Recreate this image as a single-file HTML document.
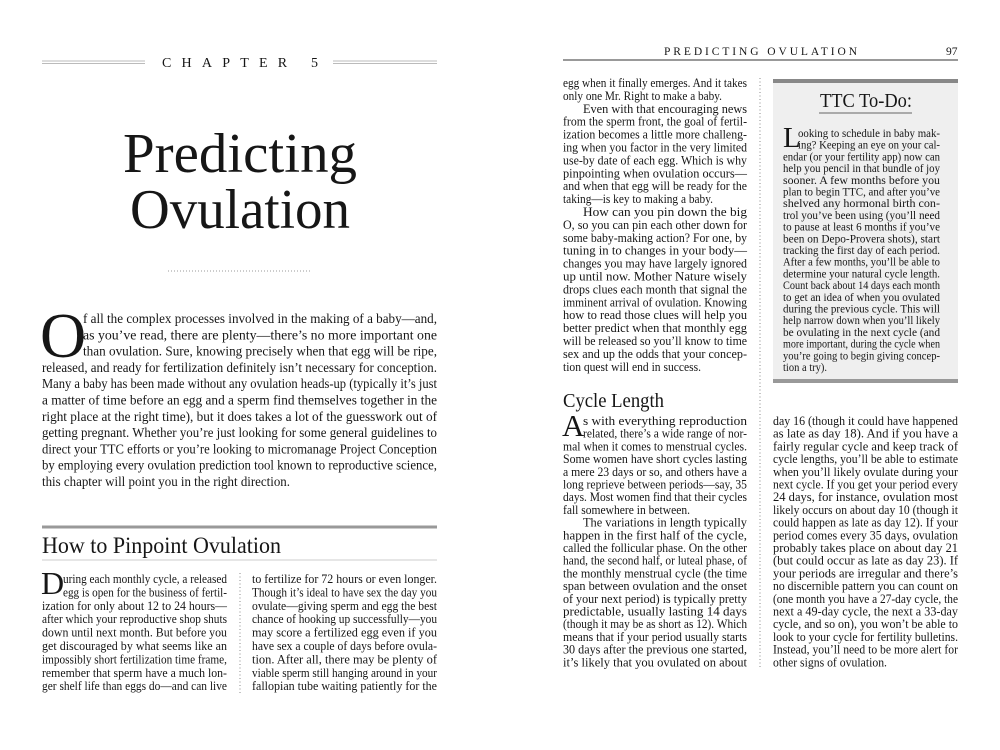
<!DOCTYPE html>
<html><head><meta charset="utf-8"><style>
body{margin:0;width:1000px;height:750px;background:#fff;overflow:hidden}
svg{display:block}
text{font-family:"Liberation Serif",serif;fill:#161616}
.a{font-size:14px}
.c{font-size:12.6px}
.x{font-size:11.8px}
</style></head><body>
<svg width="1000" height="750" viewBox="0 0 1000 750" xmlns="http://www.w3.org/2000/svg">
<!-- LEFT PAGE -->
<g stroke="#bbb" stroke-width="1">
<line x1="42" y1="61" x2="145" y2="61"/><line x1="42" y1="63.5" x2="145" y2="63.5"/>
<line x1="333" y1="61" x2="437" y2="61"/><line x1="333" y1="63.5" x2="437" y2="63.5"/>
</g>
<text x="162" y="67" font-size="14" textLength="156" lengthAdjust="spacing">CHAPTER 5</text>
<text x="123" y="172" font-size="56" textLength="234" lengthAdjust="spacingAndGlyphs">Predicting</text>
<text x="130" y="228" font-size="56" textLength="220" lengthAdjust="spacingAndGlyphs">Ovulation</text>
<line x1="168" y1="271" x2="312" y2="271" stroke="#999" stroke-dasharray="1,2"/>

<text x="40" y="357" font-size="64">O</text>
<g class="a">
<text x="83" y="323" textLength="354" lengthAdjust="spacingAndGlyphs">f all the complex processes involved in the making of a baby—and,</text>
<text x="83" y="339.3" textLength="354" lengthAdjust="spacingAndGlyphs">as you’ve read, there are plenty—there’s no more important one</text>
<text x="83" y="355.6" textLength="354" lengthAdjust="spacingAndGlyphs">than ovulation. Sure, knowing precisely when that egg will be ripe,</text>
<text x="42" y="371.9" textLength="395" lengthAdjust="spacingAndGlyphs">released, and ready for fertilization definitely isn’t necessary for conception.</text>
<text x="42" y="388.2" textLength="395" lengthAdjust="spacingAndGlyphs">Many a baby has been made without any ovulation heads-up (typically it’s just</text>
<text x="42" y="404.5" textLength="395" lengthAdjust="spacingAndGlyphs">a matter of time before an egg and a sperm find themselves together in the</text>
<text x="42" y="420.8" textLength="395" lengthAdjust="spacingAndGlyphs">right place at the right time), but it does takes a lot of the guesswork out of</text>
<text x="42" y="437.1" textLength="395" lengthAdjust="spacingAndGlyphs">getting pregnant. Whether you’re just looking for some general guidelines to</text>
<text x="42" y="453.4" textLength="395" lengthAdjust="spacingAndGlyphs">direct your TTC efforts or you’re looking to micromanage Project Conception</text>
<text x="42" y="469.7" textLength="395" lengthAdjust="spacingAndGlyphs">by employing every ovulation prediction tool known to reproductive science,</text>
<text x="42" y="486" textLength="248" lengthAdjust="spacingAndGlyphs">this chapter will point you in the right direction.</text>
</g>

<rect x="42" y="525.5" width="395" height="3" fill="#999"/>
<text x="42" y="553" font-size="23" textLength="239" lengthAdjust="spacingAndGlyphs">How to Pinpoint Ovulation</text>
<line x1="42" y1="560" x2="437" y2="560" stroke="#ccc"/>

<text x="41" y="594" font-size="32">D</text>
<g class="c">
<text x="63" y="583" textLength="164" lengthAdjust="spacingAndGlyphs">uring each monthly cycle, a released</text>
<text x="63" y="596.4" textLength="164" lengthAdjust="spacingAndGlyphs">egg is open for the business of fertil-</text>
<text x="42" y="609.8" textLength="185" lengthAdjust="spacingAndGlyphs">ization for only about 12 to 24 hours—</text>
<text x="42" y="623.2" textLength="185" lengthAdjust="spacingAndGlyphs">after which your reproductive shop shuts</text>
<text x="42" y="636.6" textLength="185" lengthAdjust="spacingAndGlyphs">down until next month. But before you</text>
<text x="42" y="650" textLength="185" lengthAdjust="spacingAndGlyphs">get discouraged by what seems like an</text>
<text x="42" y="663.4" textLength="185" lengthAdjust="spacingAndGlyphs">impossibly short fertilization time frame,</text>
<text x="42" y="676.8" textLength="185" lengthAdjust="spacingAndGlyphs">remember that sperm have a much lon-</text>
<text x="42" y="690.2" textLength="185" lengthAdjust="spacingAndGlyphs">ger shelf life than eggs do—and can live</text>
<text x="252" y="583" textLength="185" lengthAdjust="spacingAndGlyphs">to fertilize for 72 hours or even longer.</text>
<text x="252" y="596.4" textLength="185" lengthAdjust="spacingAndGlyphs">Though it’s ideal to have sex the day you</text>
<text x="252" y="609.8" textLength="185" lengthAdjust="spacingAndGlyphs">ovulate—giving sperm and egg the best</text>
<text x="252" y="623.2" textLength="185" lengthAdjust="spacingAndGlyphs">chance of hooking up successfully—you</text>
<text x="252" y="636.6" textLength="185" lengthAdjust="spacingAndGlyphs">may score a fertilized egg even if you</text>
<text x="252" y="650" textLength="185" lengthAdjust="spacingAndGlyphs">have sex a couple of days before ovula-</text>
<text x="252" y="663.4" textLength="185" lengthAdjust="spacingAndGlyphs">tion. After all, there may be plenty of</text>
<text x="252" y="676.8" textLength="185" lengthAdjust="spacingAndGlyphs">viable sperm still hanging around in your</text>
<text x="252" y="690.2" textLength="185" lengthAdjust="spacingAndGlyphs">fallopian tube waiting patiently for the</text>
</g>
<line x1="240" y1="573" x2="240" y2="694" stroke="#888" stroke-dasharray="1,2.5"/>

<!-- RIGHT PAGE -->
<text x="664" y="55" font-size="11.5" textLength="193" lengthAdjust="spacing">PREDICTING OVULATION</text>
<text x="946" y="55" font-size="11.5">97</text>
<rect x="563" y="59" width="395" height="2" fill="#999"/>

<g class="c">
<text x="563" y="87" textLength="184" lengthAdjust="spacingAndGlyphs">egg when it finally emerges. And it takes</text>
<text x="563" y="99.9" textLength="159" lengthAdjust="spacingAndGlyphs">only one Mr. Right to make a baby.</text>
<text x="583" y="112.8" textLength="164" lengthAdjust="spacingAndGlyphs">Even with that encouraging news</text>
<text x="563" y="125.7" textLength="184" lengthAdjust="spacingAndGlyphs">from the sperm front, the goal of fertil-</text>
<text x="563" y="138.6" textLength="184" lengthAdjust="spacingAndGlyphs">ization becomes a little more challeng-</text>
<text x="563" y="151.5" textLength="184" lengthAdjust="spacingAndGlyphs">ing when you factor in the very limited</text>
<text x="563" y="164.4" textLength="184" lengthAdjust="spacingAndGlyphs">use-by date of each egg. Which is why</text>
<text x="563" y="177.3" textLength="184" lengthAdjust="spacingAndGlyphs">pinpointing when ovulation occurs—</text>
<text x="563" y="190.2" textLength="184" lengthAdjust="spacingAndGlyphs">and when that egg will be ready for the</text>
<text x="563" y="203.1" textLength="150" lengthAdjust="spacingAndGlyphs">taking—is key to making a baby.</text>
<text x="583" y="216" textLength="164" lengthAdjust="spacingAndGlyphs">How can you pin down the big</text>
<text x="563" y="228.9" textLength="184" lengthAdjust="spacingAndGlyphs">O, so you can pin each other down for</text>
<text x="563" y="241.8" textLength="184" lengthAdjust="spacingAndGlyphs">some baby-making action? For one, by</text>
<text x="563" y="254.7" textLength="184" lengthAdjust="spacingAndGlyphs">tuning in to changes in your body—</text>
<text x="563" y="267.6" textLength="184" lengthAdjust="spacingAndGlyphs">changes you may have largely ignored</text>
<text x="563" y="280.5" textLength="184" lengthAdjust="spacingAndGlyphs">up until now. Mother Nature wisely</text>
<text x="563" y="293.4" textLength="184" lengthAdjust="spacingAndGlyphs">drops clues each month that signal the</text>
<text x="563" y="306.3" textLength="184" lengthAdjust="spacingAndGlyphs">imminent arrival of ovulation. Knowing</text>
<text x="563" y="319.2" textLength="184" lengthAdjust="spacingAndGlyphs">how to read those clues will help you</text>
<text x="563" y="332.1" textLength="184" lengthAdjust="spacingAndGlyphs">better predict when that monthly egg</text>
<text x="563" y="345" textLength="184" lengthAdjust="spacingAndGlyphs">will be released so you’ll know to time</text>
<text x="563" y="357.9" textLength="184" lengthAdjust="spacingAndGlyphs">sex and up the odds that your concep-</text>
<text x="563" y="370.8" textLength="138" lengthAdjust="spacingAndGlyphs">tion quest will end in success.</text>
</g>
<line x1="760" y1="78" x2="760" y2="668" stroke="#888" stroke-dasharray="1,2.5"/>

<rect x="773" y="79" width="185" height="304" fill="#efefef"/>
<rect x="773" y="79" width="185" height="4" fill="#888"/>
<rect x="773" y="379" width="185" height="4" fill="#999"/>
<text x="820" y="107" font-size="20" textLength="92" lengthAdjust="spacingAndGlyphs">TTC To-Do:</text>
<rect x="819" y="112" width="93" height="2" fill="#aaa"/>
<text x="783" y="147" font-size="29">L</text>
<g class="x">
<text x="798" y="137" textLength="142" lengthAdjust="spacingAndGlyphs">ooking to schedule in baby mak-</text>
<text x="798" y="148.7" textLength="142" lengthAdjust="spacingAndGlyphs">ing? Keeping an eye on your cal-</text>
<text x="783" y="160.4" textLength="157" lengthAdjust="spacingAndGlyphs">endar (or your fertility app) now can</text>
<text x="783" y="172.1" textLength="157" lengthAdjust="spacingAndGlyphs">help you pencil in that bundle of joy</text>
<text x="783" y="183.8" textLength="157" lengthAdjust="spacingAndGlyphs">sooner. A few months before you</text>
<text x="783" y="195.5" textLength="157" lengthAdjust="spacingAndGlyphs">plan to begin TTC, and after you’ve</text>
<text x="783" y="207.2" textLength="157" lengthAdjust="spacingAndGlyphs">shelved any hormonal birth con-</text>
<text x="783" y="218.9" textLength="157" lengthAdjust="spacingAndGlyphs">trol you’ve been using (you’ll need</text>
<text x="783" y="230.6" textLength="157" lengthAdjust="spacingAndGlyphs">to pause at least 6 months if you’ve</text>
<text x="783" y="242.3" textLength="157" lengthAdjust="spacingAndGlyphs">been on Depo-Provera shots), start</text>
<text x="783" y="254" textLength="157" lengthAdjust="spacingAndGlyphs">tracking the first day of each period.</text>
<text x="783" y="265.7" textLength="157" lengthAdjust="spacingAndGlyphs">After a few months, you’ll be able to</text>
<text x="783" y="277.4" textLength="157" lengthAdjust="spacingAndGlyphs">determine your natural cycle length.</text>
<text x="783" y="289.1" textLength="157" lengthAdjust="spacingAndGlyphs">Count back about 14 days each month</text>
<text x="783" y="300.8" textLength="157" lengthAdjust="spacingAndGlyphs">to get an idea of when you ovulated</text>
<text x="783" y="312.5" textLength="157" lengthAdjust="spacingAndGlyphs">during the previous cycle. This will</text>
<text x="783" y="324.2" textLength="157" lengthAdjust="spacingAndGlyphs">help narrow down when you’ll likely</text>
<text x="783" y="335.9" textLength="157" lengthAdjust="spacingAndGlyphs">be ovulating in the next cycle (and</text>
<text x="783" y="347.6" textLength="157" lengthAdjust="spacingAndGlyphs">more important, during the cycle when</text>
<text x="783" y="359.3" textLength="157" lengthAdjust="spacingAndGlyphs">you’re going to begin giving concep-</text>
<text x="783" y="371" textLength="44" lengthAdjust="spacingAndGlyphs">tion a try).</text>
</g>

<text x="563" y="407" font-size="20" textLength="101" lengthAdjust="spacingAndGlyphs">Cycle Length</text>
<text x="562" y="436" font-size="31">A</text>
<g class="c">
<text x="583" y="425" textLength="164" lengthAdjust="spacingAndGlyphs">s with everything reproduction</text>
<text x="583" y="437.7" textLength="164" lengthAdjust="spacingAndGlyphs">related, there’s a wide range of nor-</text>
<text x="563" y="450.4" textLength="184" lengthAdjust="spacingAndGlyphs">mal when it comes to menstrual cycles.</text>
<text x="563" y="463.1" textLength="184" lengthAdjust="spacingAndGlyphs">Some women have short cycles lasting</text>
<text x="563" y="475.8" textLength="184" lengthAdjust="spacingAndGlyphs">a mere 23 days or so, and others have a</text>
<text x="563" y="488.5" textLength="184" lengthAdjust="spacingAndGlyphs">long reprieve between periods—say, 35</text>
<text x="563" y="501.2" textLength="184" lengthAdjust="spacingAndGlyphs">days. Most women find that their cycles</text>
<text x="563" y="513.9" textLength="127" lengthAdjust="spacingAndGlyphs">fall somewhere in between.</text>
<text x="583" y="526.6" textLength="164" lengthAdjust="spacingAndGlyphs">The variations in length typically</text>
<text x="563" y="539.3" textLength="184" lengthAdjust="spacingAndGlyphs">happen in the first half of the cycle,</text>
<text x="563" y="552" textLength="184" lengthAdjust="spacingAndGlyphs">called the follicular phase. On the other</text>
<text x="563" y="564.7" textLength="184" lengthAdjust="spacingAndGlyphs">hand, the second half, or luteal phase, of</text>
<text x="563" y="577.4" textLength="184" lengthAdjust="spacingAndGlyphs">the monthly menstrual cycle (the time</text>
<text x="563" y="590.1" textLength="184" lengthAdjust="spacingAndGlyphs">span between ovulation and the onset</text>
<text x="563" y="602.8" textLength="184" lengthAdjust="spacingAndGlyphs">of your next period) is typically pretty</text>
<text x="563" y="615.5" textLength="184" lengthAdjust="spacingAndGlyphs">predictable, usually lasting 14 days</text>
<text x="563" y="628.2" textLength="184" lengthAdjust="spacingAndGlyphs">(though it may be as short as 12). Which</text>
<text x="563" y="640.9" textLength="184" lengthAdjust="spacingAndGlyphs">means that if your period usually starts</text>
<text x="563" y="653.6" textLength="184" lengthAdjust="spacingAndGlyphs">30 days after the previous one started,</text>
<text x="563" y="666.3" textLength="184" lengthAdjust="spacingAndGlyphs">it’s likely that you ovulated on about</text>

<text x="773" y="425" textLength="185" lengthAdjust="spacingAndGlyphs">day 16 (though it could have happened</text>
<text x="773" y="437.7" textLength="185" lengthAdjust="spacingAndGlyphs">as late as day 18). And if you have a</text>
<text x="773" y="450.4" textLength="185" lengthAdjust="spacingAndGlyphs">fairly regular cycle and keep track of</text>
<text x="773" y="463.1" textLength="185" lengthAdjust="spacingAndGlyphs">cycle lengths, you’ll be able to estimate</text>
<text x="773" y="475.8" textLength="185" lengthAdjust="spacingAndGlyphs">when you’ll likely ovulate during your</text>
<text x="773" y="488.5" textLength="185" lengthAdjust="spacingAndGlyphs">next cycle. If you get your period every</text>
<text x="773" y="501.2" textLength="185" lengthAdjust="spacingAndGlyphs">24 days, for instance, ovulation most</text>
<text x="773" y="513.9" textLength="185" lengthAdjust="spacingAndGlyphs">likely occurs on about day 10 (though it</text>
<text x="773" y="526.6" textLength="185" lengthAdjust="spacingAndGlyphs">could happen as late as day 12). If your</text>
<text x="773" y="539.3" textLength="185" lengthAdjust="spacingAndGlyphs">period comes every 35 days, ovulation</text>
<text x="773" y="552" textLength="185" lengthAdjust="spacingAndGlyphs">probably takes place on about day 21</text>
<text x="773" y="564.7" textLength="185" lengthAdjust="spacingAndGlyphs">(but could occur as late as day 23). If</text>
<text x="773" y="577.4" textLength="185" lengthAdjust="spacingAndGlyphs">your periods are irregular and there’s</text>
<text x="773" y="590.1" textLength="185" lengthAdjust="spacingAndGlyphs">no discernible pattern you can count on</text>
<text x="773" y="602.8" textLength="185" lengthAdjust="spacingAndGlyphs">(one month you have a 27-day cycle, the</text>
<text x="773" y="615.5" textLength="185" lengthAdjust="spacingAndGlyphs">next a 49-day cycle, the next a 33-day</text>
<text x="773" y="628.2" textLength="185" lengthAdjust="spacingAndGlyphs">cycle, and so on), you won’t be able to</text>
<text x="773" y="640.9" textLength="185" lengthAdjust="spacingAndGlyphs">look to your cycle for fertility bulletins.</text>
<text x="773" y="653.6" textLength="185" lengthAdjust="spacingAndGlyphs">Instead, you’ll need to be more alert for</text>
<text x="773" y="666.3" textLength="114" lengthAdjust="spacingAndGlyphs">other signs of ovulation.</text>
</g>
</svg>
</body></html>
